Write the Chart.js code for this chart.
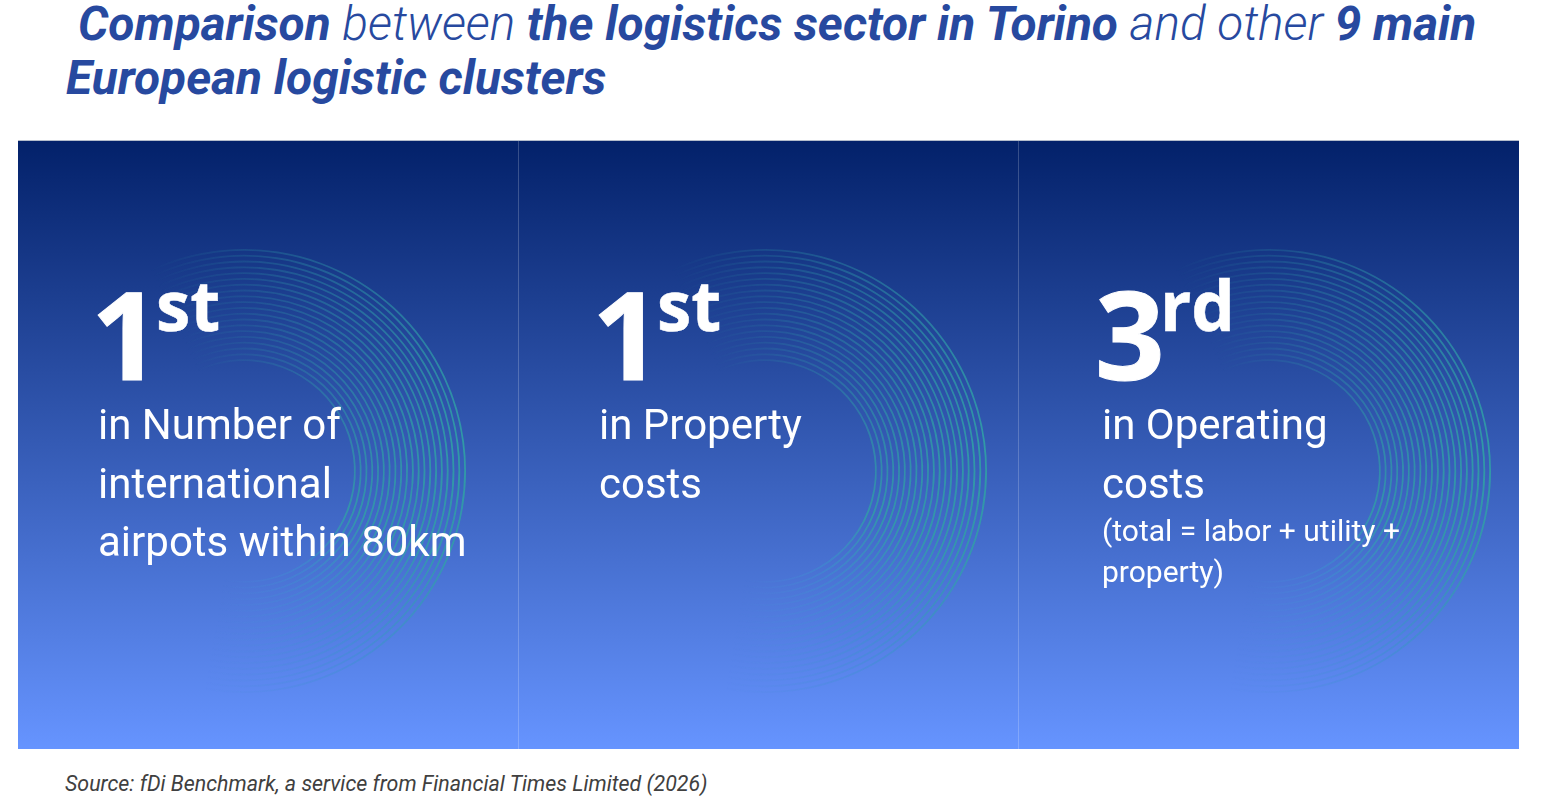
<!DOCTYPE html>
<html>
<head>
<meta charset="utf-8">
<title>Torino logistics comparison</title>
<script src="https://cdn.jsdelivr.net/npm/chart.js@4"></script>
<style>
html, body { margin: 0; padding: 0; background: #fff; overflow: hidden; }
body { width: 1542px; height: 806px; position: relative; font-family: Roboto, sans-serif; }
canvas { position: absolute; }
.t { position: absolute; white-space: pre; line-height: 1; }
.title { font-size: 47.8px; font-style: italic; font-weight: 300; color: #27499f; }
.title b { font-weight: 700; }
.rank { font-family: "Open Sans", sans-serif; font-weight: 700; font-size: 122px; color: #fff; -webkit-text-stroke: 1px #fff; }
.suffix { font-family: "Open Sans", sans-serif; font-weight: 700; font-size: 69px; color: #fff; -webkit-text-stroke: 0.5px #fff; }
.desc { font-size: 42px; color: #fff; }
.note { font-size: 30px; color: #fff; }
.source { font-size: 21.4px; font-style: italic; color: #404040; }
#topline { position: absolute; left: 18px; top: 140px; width: 1501px; height: 1px; background: #b4bccb; }
</style>
</head>
<body>
<div class="t title" style="left:78px;top:1px"><b>Comparison</b> between <b>the logistics sector in Torino</b> and other <b>9 main</b></div>
<div class="t title" style="left:66px;top:55px"><b>European logistic clusters</b></div>
<div id="topline"></div>
<canvas id="panels" width="1501" height="608" style="left:18px;top:141px"></canvas>
<div class="t source" style="left:65px;top:773px">Source: fDi Benchmark, a service from Financial Times Limited (2026)</div>

<script>
var categories = ['Number of international airports', 'Property costs', 'Operating costs'];
var panelValues = [1, 1, 1];
var ranks = ['1', '1', '3'];
var suffixes = ['st', 'st', 'rd'];
var descriptions = [
    ['in Number of', 'international', 'airpots within 80km'],
    ['in Property', 'costs'],
    ['in Operating', 'costs']
];
var notes = [[], [], ['(total = labor + utility +', 'property)']];
var ringCount = 20;
var ringArc = [215, 145];

// Background panels are one bar each, filling the whole plot area
var panelCtx = document.getElementById('panels').getContext('2d');
var panelFill = panelCtx.createLinearGradient(0, 0, 0, 608);
panelFill.addColorStop(0, '#03216a');
panelFill.addColorStop(1, '#6694ff');

new Chart(panelCtx, {
    type: 'bar',
    data: {
        labels: categories,
        datasets: [{
            data: panelValues,
            backgroundColor: panelFill,
            barPercentage: 1,
            categoryPercentage: 1
        }]
    },
    options: {
        responsive: false,
        animation: false,
        layout: { padding: 0 },
        plugins: { legend: { display: false }, tooltip: { enabled: false } },
        scales: {
            x: {
                ticks: { display: false },
                border: { display: false },
                grid: {
                    z: 1,
                    drawTicks: false,
                    color: function (c) {
                        return (c.index === 1 || c.index === 2) ? 'rgba(255,255,255,0.2)' : 'rgba(255,255,255,0)';
                    }
                }
            },
            y: { display: false, min: 0, max: 1 }
        }
    }
});

// Concentric arcs, one doughnut per panel, gaps are transparent rings
var ringCentres = [244, 765, 1269];
var ringSize = 444;

function addRings(cx) {
    var canvas = document.createElement('canvas');
    canvas.width = ringSize;
    canvas.height = ringSize;
    canvas.style.left = (cx - ringSize / 2) + 'px';
    canvas.style.top = (471 - ringSize / 2) + 'px';
    document.body.appendChild(canvas);
    var ctx = canvas.getContext('2d');

    var datasets = [];
    for (var i = 0; i < ringCount; i++) {
        var k = 1 - 0.3 * i / (ringCount - 1);
        var start = -Math.PI / 2 - 25 * Math.PI / 180;
        var g = ctx.createConicGradient(start, ringSize / 2, ringSize / 2);
        g.addColorStop(0, 'rgba(48,155,170,0)');
        g.addColorStop(0.16, 'rgba(48,155,170,' + 0.5 * k + ')');
        g.addColorStop(0.3, 'rgba(48,160,165,' + 0.9 * k + ')');
        g.addColorStop(0.38, 'rgba(48,160,165,0.8)');
        g.addColorStop(0.48, 'rgba(60,145,205,0.5)');
        g.addColorStop(0.6, 'rgba(80,140,225,0)');
        g.addColorStop(1, 'rgba(80,140,225,0)');
        datasets.push({ data: ringArc, backgroundColor: [g, 'rgba(0,0,0,0)'], borderWidth: 0, weight: 1.8 });
        if (i < ringCount - 1) {
            datasets.push({ data: [360], backgroundColor: ['rgba(0,0,0,0)'], borderWidth: 0, weight: 4 });
        }
    }

    new Chart(ctx, {
        type: 'doughnut',
        data: { labels: ['arc', 'rest'], datasets: datasets },
        options: {
            responsive: false,
            animation: false,
            rotation: -25,
            cutout: 110,
            layout: { padding: 0 },
            plugins: { legend: { display: false }, tooltip: { enabled: false } }
        }
    });
}
ringCentres.forEach(addRings);

// Real text on top of the charts
var textLeft = [98, 599, 1102];

function addText(cls, str, left, top) {
    var d = document.createElement('div');
    d.className = 't ' + cls;
    d.textContent = str;
    d.style.left = left + 'px';
    d.style.top = top + 'px';
    document.body.appendChild(d);
    return d;
}

ranks.forEach(function (r, i) {
    var rank = addText('rank', r, textLeft[i] - 7, 272);
    addText('suffix', suffixes[i], rank.offsetLeft + rank.offsetWidth - 5, 270);
    descriptions[i].forEach(function (line, j) {
        addText('desc', line, textLeft[i], 404 + j * 58.5);
    });
    notes[i].forEach(function (line, j) {
        addText('note', line, textLeft[i], 515.5 + j * 41.5);
    });
});
</script>
</body>
</html>
